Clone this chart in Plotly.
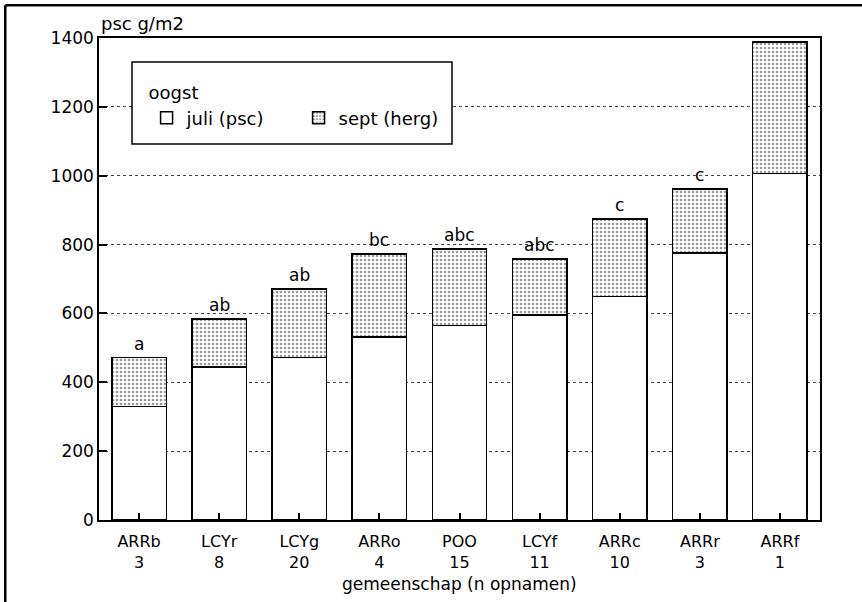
import plotly.graph_objects as go

categories = ["ARRb", "LCYr", "LCYg", "ARRo", "POO", "LCYf", "ARRc", "ARRr", "ARRf"]
n_opnamen = ["3", "8", "20", "4", "15", "11", "10", "3", "1"]
juli = [329, 445, 472, 531, 565, 596, 649, 776, 1006]
totaal = [472, 584, 671, 773, 787, 758, 874, 961, 1389]
letters = ["a", "ab", "ab", "bc", "abc", "abc", "c", "c", ""]
sept = [t - j for t, j in zip(totaal, juli)]
tick_text = [f"{c}<br>{n}" for c, n in zip(categories, n_opnamen)]
y_ticks = [0, 200, 400, 600, 800, 1000, 1200, 1400]
x = list(range(len(categories)))

FONT = "DejaVu Sans, Liberation Sans, sans-serif"

fig = go.Figure()
fig.add_trace(go.Bar(
    x=x, y=juli, name="juli (psc)", width=0.68,
    marker=dict(color="white", line=dict(color="black", width=1.5)),
))
fig.add_trace(go.Bar(
    x=x, y=sept, name="sept (herg)", width=0.68,
    marker=dict(color="white", line=dict(color="black", width=1.5),
                pattern=dict(shape=".", fgcolor="#333", bgcolor="white",
                             size=4, solidity=0.35)),
))

for xi, t, lab in zip(x, totaal, letters):
    if lab:
        fig.add_annotation(x=xi, y=t, text=lab, showarrow=False, yanchor="bottom",
                           yshift=2, font=dict(size=17, color="black", family=FONT))

fig.add_annotation(xref="paper", yref="paper", x=0.0, y=1.0, xanchor="left",
                   yanchor="bottom", yshift=2, text="psc g/m2", showarrow=False,
                   font=dict(size=18, color="black", family=FONT))
fig.add_annotation(xref="paper", yref="paper", x=0.5, y=0, yanchor="top",
                   yshift=-52, text="gemeenschap (n opnamen)", showarrow=False,
                   font=dict(size=17, color="black", family=FONT))

# legend frame
fig.add_shape(type="rect", xref="paper", yref="paper", x0=0.0458, x1=0.4896,
              y0=0.780, y1=0.950, fillcolor="white", layer="above",
              line=dict(color="black", width=1.5))

# outer frame lines (left and top)
fig.add_shape(type="line", xref="paper", yref="paper", x0=-0.130, x1=-0.130,
              y0=-0.2, y1=1.068, line=dict(color="black", width=2.5))
fig.add_shape(type="line", xref="paper", yref="paper", x0=-0.130, x1=1.1,
              y0=1.068, y1=1.068, line=dict(color="black", width=2.5))

fig.update_layout(
    width=862, height=602,
    barmode="stack",
    paper_bgcolor="white", plot_bgcolor="white",
    margin=dict(l=99, r=42, t=38, b=82),
    font=dict(family=FONT, color="black", size=17),
    showlegend=True,
    legend=dict(
        title=dict(text="oogst", side="top", font=dict(size=18)),
        orientation="h", x=0.066, y=0.921, xanchor="left", yanchor="top",
        bgcolor="rgba(0,0,0,0)", borderwidth=0,
        font=dict(size=18), entrywidth=107, traceorder="normal",
    ),
    xaxis=dict(
        range=[-0.5, 8.5], tickmode="array", tickvals=x, ticktext=tick_text,
        ticks="inside", ticklen=7, tickwidth=1.5, tickcolor="black",
        showline=True, linecolor="black", linewidth=1.5, mirror=True,
        showgrid=False, zeroline=False, tickfont=dict(size=16),
        ticklabelstandoff=6,
    ),
    yaxis=dict(
        range=[0, 1400], tickmode="array", tickvals=y_ticks,
        ticks="inside", ticklen=8, tickwidth=1.5, tickcolor="black",
        showline=True, linecolor="black", linewidth=1.5, mirror=True,
        showgrid=True, gridcolor="#444", griddash="dot", gridwidth=1,
        zeroline=False, tickfont=dict(size=17),
    ),
)

fig.write_html("out.html", config={"displayModeBar": False},
               post_script="document.body.style.margin='0';")
